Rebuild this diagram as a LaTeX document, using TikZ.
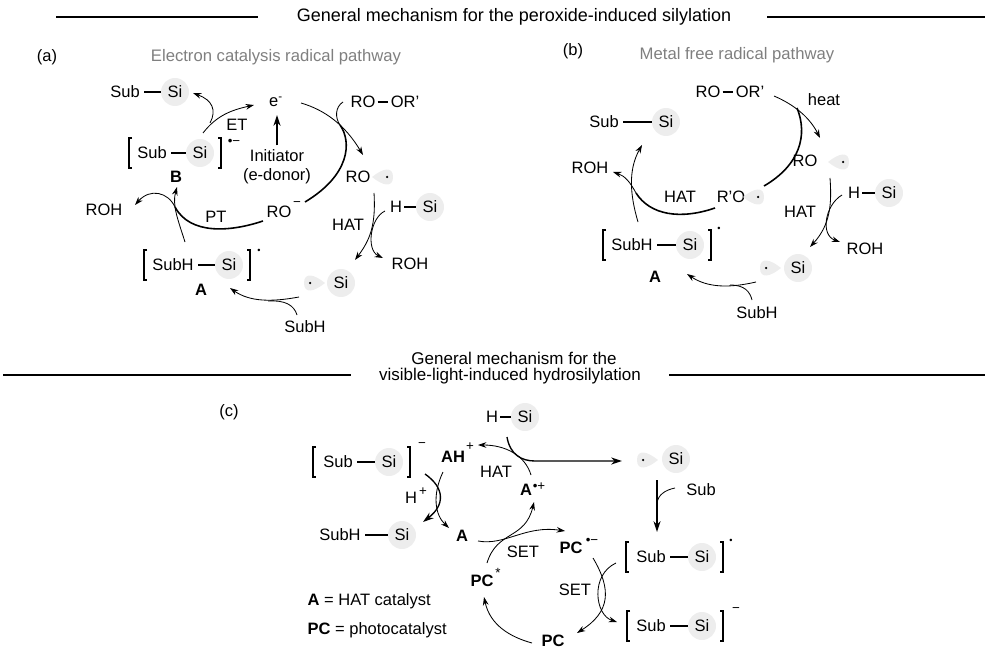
\documentclass[tikz,border=0pt]{standalone}
\usepackage{fontspec}
\setmainfont{Liberation Sans}
\usetikzlibrary{arrows.meta}
\definecolor{siback}{HTML}{EDEDED}
\definecolor{titlegray}{HTML}{7F7F7F}
\tikzset{
	txt/.style={inner sep=2.6pt, font=\fontsize{9.9}{12}\selectfont},
	tight/.style={txt, inner sep=1.2pt},
	bold/.style={txt, font=\fontsize{9.9}{12}\selectfont\bfseries},
	title/.style={txt, text=titlegray, font=\fontsize{10}{12}\selectfont},
	head/.style={txt, font=\fontsize{10.8}{12}\selectfont},
	headb/.style={txt, font=\fontsize{10.2}{12}\selectfont},
	supr/.style={inner sep=0pt, font=\fontsize{8}{9}\selectfont},
	radot/.style={inner sep=0pt, font=\fontsize{5.5}{6}\selectfont},
	si/.style={circle, fill=siback, minimum size=16.8pt, inner sep=0pt, font=\fontsize{9.9}{12}\selectfont},
	bond/.style={line width=0.7pt},
	rule/.style={line width=0.75pt},
	arr/.style={line width=0.5pt, -{Stealth[length=5pt, width=3.4pt]}},
	thin/.style={line width=0.5pt},
	thk/.style={line width=0.95pt},
	thkarr/.style={line width=0.8pt, -{Stealth[length=6.5pt, width=4.2pt]}},
	lobe/.pic={
		\fill[siback] (-6,0) .. controls (-6,-11) and (4,-9) .. (15,0) .. controls (4,9) and (-6,11) .. (-6,0);
		\fill (0,0) circle (0.75pt);
	},
	lbrk/.pic={\draw[line width=0.65pt] (3,-15) -- (0,-15) -- (0,15) -- (3,15);},
	rbrk/.pic={\draw[line width=0.65pt] (-3,-15) -- (0,-15) -- (0,15) -- (-3,15);},
}
\begin{document}
\begin{tikzpicture}[x=0.6pt, y=-0.6pt]
	\useasboundingbox (0,0) rectangle (1000,656);
	% headings
	\node[head] (headtop) at (514,17) {General mechanism for the peroxide-induced silylation};
	\coordinate (ruleAa) at (56,17);
	\coordinate (ruleAb) at (258,17);
	\coordinate (ruleAc) at (767,17);
	\coordinate (ruleAd) at (985,17);
	\draw[rule] (ruleAa) -- (ruleAb);
	\draw[rule] (ruleAc) -- (ruleAd);
	\node[headb] (headmida) at (514,358) {General mechanism for the};
	\node[headb] (headmidb) at (510,376) {visible-light-induced hydrosilylation};
	\coordinate (ruleBa) at (3,375);
	\coordinate (ruleBb) at (351,375);
	\coordinate (ruleBc) at (669,375);
	\coordinate (ruleBd) at (985,375);
	\draw[rule] (ruleBa) -- (ruleBb);
	\draw[rule] (ruleBc) -- (ruleBd);
	\node[txt] (labA) at (47,57) {(a)};
	\node[txt] (labB) at (573,51) {(b)};
	\node[txt] (labC) at (229,412) {(c)};
	\node[title] (titleA) at (276,57) {Electron catalysis radical pathway};
	\node[title] (titleB) at (737,55) {Metal free radical pathway};

	% panel a
	\node[txt] (aSub) at (125,92) {Sub};
	\node[si] (aSi) at (175,92) {Si};
	\draw[bond] (aSub) -- (aSi);
	\pic at (129,153) {lbrk};
	\node[txt] (bSub) at (152,153) {Sub};
	\node[si] (bSi) at (200,153) {Si};
	\draw[bond] (bSub) -- (bSi);
	\pic at (221,153) {rbrk};
	\node[supr] (bChg) at (234,142) {•−};
	\node[bold] (bB) at (176,177) {B};
	\node[txt] (eMin) at (276,102) {e\textsuperscript{-}};
	\node[txt, inner sep=0pt] (ET) at (237,125) {ET};
	\node[txt] (initA) at (277,156) {Initiator};
	\node[txt] (initB) at (277,176) {(e-donor)};
	\node[tight] (aRO) at (363,102) {RO};
	\node[tight] (aOR) at (405,102) {OR'};
	\draw[bond] (aRO) -- (aOR);
	\node[txt] (aROr) at (358,177) {RO};
	\pic[xscale=-1] at (387,177) {lobe};
	\node[txt] (aROm) at (279,212) {RO};
	\node[supr] (aROmChg) at (297,204) {−};
	\node[txt] (PT) at (216,217) {PT};
	\node[txt] (aROH) at (104,210) {ROH};
	\node[tight] (aH) at (396,207) {H};
	\node[si] (aHSi) at (430,207) {Si};
	\draw[bond] (aH) -- (aHSi);
	\node[txt] (aHAT) at (348,225) {HAT};
	\node[txt] (aROHb) at (410,264) {ROH};
	\pic at (310,283) {lobe};
	\node[si] (aSir) at (341,283) {Si};
	\pic at (144,265) {lbrk};
	\node[txt] (aSubH) at (173,265) {SubH};
	\node[si] (cSi) at (229,265) {Si};
	\draw[bond] (aSubH) -- (cSi);
	\pic at (250,265) {rbrk};
	\node[radot] (cDot) at (259,251) {•};
	\node[bold] (aA) at (201,290) {A};
	\node[txt] (aSubHb) at (305,327) {SubH};
	\coordinate (aJoin) at (340,125);
	\coordinate (bJoin) at (175,207);
	\coordinate (cJoin) at (268,301);

	\draw[arr] ([shift={(10,-30)}]bSi.center) .. controls (217,110) and (212,100) .. ([shift={(18,1)}]aSi.center);
	\draw[arr] ([shift={(3,-20)}]bSi.center) .. controls (217,115) and (232,110) .. ([shift={(-22,3)}]eMin.center);
	\draw[thkarr] (initA.north) -- ([shift={(1,13)}]eMin.center);
	\draw[arr] ([shift={(25,1)}]eMin.center) .. controls (325,110) and (345,125) .. ([shift={(5,-22)}]aROr.center);
	\draw[thin] ([shift={(-20,0)}]aRO.center) .. controls (335,107) and (335,118) .. (aJoin);
	\draw[thk] (aJoin) .. controls (352,142) and (350,175) .. ([shift={(26,-10)}]aROm.center);
	\draw[thk] ([shift={(-16,9)}]aROm.center) .. controls (230,232) and (190,235) .. (bJoin);
	\draw[arr] (bJoin) .. controls (168,192) and (150,188) .. ([shift={(31,-5)}]aROH.center);
	\draw[arr] ([shift={(12,-23)}]aSubH.center) .. controls (178,220) and (172,205) .. ([shift={(1,10)}]bB.center);
	\draw[arr] ([shift={(16,16)}]aROr.center) .. controls (376,225) and (370,240) .. ([shift={(14,-23)}]aSir.center);
	\draw[arr] ([shift={(-11,4)}]aH.center) .. controls (370,218) and (366,250) .. ([shift={(-27,-6)}]aROHb.center);
	\draw[arr] ([shift={(-42,14)}]aSir.center) .. controls (272,302) and (250,302) .. ([shift={(29,-2)}]aA.center);
	\draw[thin] ([shift={(-8,-12)}]aSubHb.center) .. controls (294,305) and (285,300) .. (cJoin);

	% panel b
	\node[tight] (dRO) at (708,92) {RO};
	\node[tight] (dOR) at (750,92) {OR'};
	\draw[bond] (dRO) -- (dOR);
	\node[txt] (heat) at (824,100) {heat};
	\node[txt] (dSub) at (604,122) {Sub};
	\node[si] (dSi) at (666,122) {Si};
	\draw[bond] (dSub) -- (dSi);
	\node[txt] (dROH) at (590,168) {ROH};
	\node[txt] (dHATa) at (680,197) {HAT};
	\node[txt] (dRpO) at (731,197) {R'O};
	\pic[xscale=-1] at (758,197) {lobe};
	\node[txt] (dROr) at (805,161) {RO};
	\pic[xscale=-1] at (843,162) {lobe};
	\node[tight] (dH) at (854,193) {H};
	\node[si] (dHSi) at (889,193) {Si};
	\draw[bond] (dH) -- (dHSi);
	\node[txt] (dHATb) at (800,212) {HAT};
	\node[txt] (dROHb) at (865,249) {ROH};
	\pic at (766,268) {lobe};
	\node[si] (dSir) at (798,268) {Si};
	\pic at (603,245) {lbrk};
	\node[txt] (dSubH) at (632,245) {SubH};
	\node[si] (eSi) at (690,245) {Si};
	\draw[bond] (dSubH) -- (eSi);
	\pic at (711,245) {rbrk};
	\node[radot] (eDot) at (719,229) {•};
	\node[bold] (dA) at (655,277) {A};
	\node[txt] (dSubHb) at (757,313) {SubH};
	\coordinate (dJoin) at (797,108);
	\coordinate (eJoin) at (636,193);
	\coordinate (fJoin) at (730,285);

	\draw[arr] ([shift={(24,4)}]dOR.center) .. controls (795,105) and (810,118) .. ([shift={(15,-23)}]dROr.center);
	\draw[thk] (dJoin) .. controls (808,135) and (800,165) .. ([shift={(33,-11)}]dRpO.center);
	\draw[thk] ([shift={(-16,11)}]dRpO.center) .. controls (680,220) and (650,215) .. (eJoin);
	\draw[arr] (eJoin) .. controls (630,182) and (625,176) .. ([shift={(23,4)}]dROH.center);
	\draw[arr] ([shift={(6,-23)}]dSubH.center) .. controls (630,195) and (628,170) .. ([shift={(-24,23)}]dSi.center);
	\draw[arr] ([shift={(25,17)}]dROr.center) .. controls (832,205) and (830,225) .. ([shift={(12,-21)}]dSir.center);
	\draw[arr] ([shift={(-12,2)}]dH.center) .. controls (825,205) and (820,235) .. ([shift={(-25,-7)}]dROHb.center);
	\draw[arr] ([shift={(-42,14)}]dSir.center) .. controls (730,288) and (708,288) .. ([shift={(32,-3)}]dA.center);
	\draw[thin] ([shift={(-5,-13)}]dSubHb.center) .. controls (750,292) and (745,285) .. (fJoin);

	% panel c
	\node[tight] (fH) at (492,417) {H};
	\node[si] (fSi) at (525,417) {Si};
	\draw[bond] (fH) -- (fSi);
	\pic at (313,462) {lbrk};
	\node[txt] (gSub) at (338,462) {Sub};
	\node[si] (gSi) at (389,462) {Si};
	\draw[bond] (gSub) -- (gSi);
	\pic at (410,462) {rbrk};
	\node[supr] (gChg) at (422,445) {−};
	\node[bold] (AH) at (453,457) {AH};
	\node[supr] (AHChg) at (470,447) {+};
	\node[txt] (fHAT) at (496,472) {HAT};
	\node[bold] (Arc) at (526,490) {A};
	\node[supr] (ArcChg) at (539,487) {•+};
	\node[txt] (Hp) at (411,498) {H};
	\node[supr] (HpChg) at (423,492) {+};
	\node[txt] (hSubH) at (340,535) {SubH};
	\node[si] (hSi) at (402,535) {Si};
	\draw[bond] (hSubH) -- (hSi);
	\node[bold] (Acat) at (462,536) {A};
	\node[bold] (PCr) at (571,548) {PC};
	\node[supr] (PCrChg) at (592,541) {•−};
	\node[txt] (SETa) at (523,552) {SET};
	\node[bold] (PCs) at (482,581) {PC};
	\node[supr] (PCsChg) at (498,573) {*};
	\node[txt] (SETb) at (575,590) {SET};
	\node[bold] (PC) at (553,641) {PC};
	\node[txt, anchor=west] (legA) at (303,601) {\textbf{A} = HAT catalyst};
	\node[txt, anchor=west] (legB) at (303,630) {\textbf{PC} = photocatalyst};
	\pic at (643,460) {lobe};
	\node[si] (kSi) at (676,459) {Si};
	\node[txt] (kSub) at (701,490) {Sub};
	\pic at (626,557) {lbrk};
	\node[txt] (mSub) at (651,557) {Sub};
	\node[si] (mSi) at (702,557) {Si};
	\draw[bond] (mSub) -- (mSi);
	\pic at (723,557) {rbrk};
	\node[radot] (mDot) at (731,541) {•};
	\pic at (627,626) {lbrk};
	\node[txt] (nSub) at (651,626) {Sub};
	\node[si] (nSi) at (702,626) {Si};
	\draw[bond] (nSub) -- (nSi);
	\pic at (723,626) {rbrk};
	\node[supr] (nChg) at (736,610) {−};
	\coordinate (gJoin) at (535,461);
	\coordinate (hJoin) at (657,503);

	\draw[arr] ([shift={(-10,15)}]AH.center) .. controls (432,495) and (435,515) .. ([shift={(-13,-8)}]Acat.center);
	\draw[thkarr] ([shift={(36,12)}]gSi.center) .. controls (445,488) and (445,505) .. ([shift={(21,-13)}]hSi.center);
	\draw[arr] ([shift={(5,-15)}]Arc.center) .. controls (525,455) and (505,445) .. ([shift={(25,-12)}]AH.center);
	\draw[thkarr] ([shift={(-18,20)}]fSi.center) .. controls (510,455) and (522,461) .. (gJoin) -- ([shift={(-54,2)}]kSi.center);
	\draw[arr] ([shift={(16,5)}]Acat.center) .. controls (505,546) and (525,525) .. ([shift={(-6,-17)}]PCr.center);
	\draw[arr] ([shift={(5,-18)}]PCs.center) .. controls (497,530) and (525,540) .. ([shift={(8,12)}]Arc.center);
	\draw[arr] ([shift={(-21,2)}]PC.center) .. controls (510,637) and (490,625) .. ([shift={(2,16)}]PCs.center);
	\draw[arr] ([shift={(22,10)}]PCr.center) .. controls (612,590) and (610,612) .. ([shift={(24,-8)}]PC.center);
	\draw[arr] ([shift={(-35,6)}]mSub.center) .. controls (590,575) and (595,615) .. ([shift={(-34,-4)}]nSub.center);
	\draw[thkarr] ([shift={(-19,21)}]kSi.center) -- ([shift={(6,-25)}]mSub.center);
	\draw[thin] ([shift={(-26,-2)}]kSub.center) .. controls (665,490) and (658,495) .. (hJoin);
\end{tikzpicture}
\end{document}
